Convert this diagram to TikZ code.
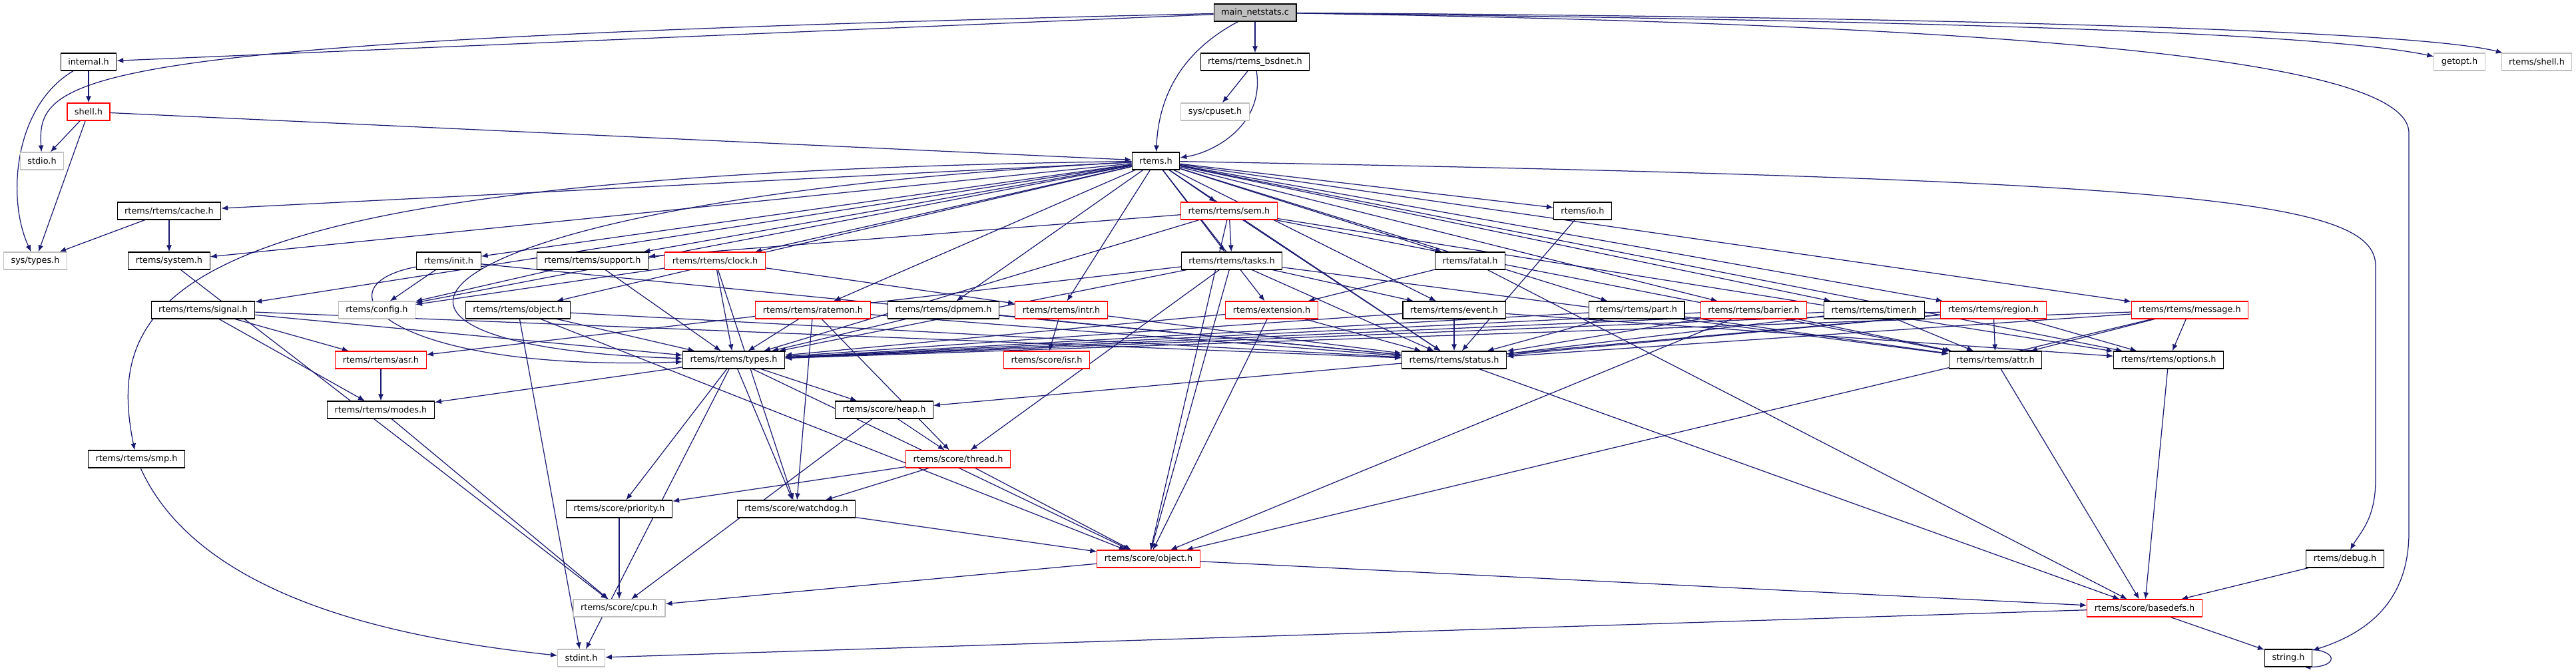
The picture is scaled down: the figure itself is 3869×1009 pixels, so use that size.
\documentclass[tikz,border=0pt]{standalone}
\usepackage{fontspec}
\newfontfamily\graphfont{DejaVu Sans}
\usetikzlibrary{arrows.meta,backgrounds}
\definecolor{edgeblue}{HTML}{191970}
\definecolor{boxgray}{HTML}{BFBFBF}
\definecolor{boxred}{HTML}{FF0000}

\begin{document}
\begin{tikzpicture}[x=0.02cm,y=-0.02cm,
    hdr/.style={draw=black,line width=0.6pt,fill=white,minimum height=0.52cm,
      inner xsep=0.22cm,inner ysep=0pt,font=\graphfont\fontsize{7.3}{8}\selectfont},
    hdrred/.style={hdr,draw=boxred},
    hdrgray/.style={hdr,draw=boxgray},
    hdrmain/.style={hdr,fill=boxgray},
    incl/.style={draw=edgeblue,line width=0.7pt,-{Latex[length=0.2cm,width=0.16cm]}}]
                            \useasboundingbox (0,0) rectangle (3869,1009);

                            % Row 0 and 1
                            \node [hdrmain] (main) at (1885,19) {main\_netstats.c};
                            \node [hdr] (internal) at (133,93) {internal.h};
                            \node [hdr] (bsdnet) at (1885,93) {rtems/rtems\_bsdnet.h};
                            \node [hdrgray] (getopt) at (3694,93) {getopt.h};
                            \node [hdrgray] (rshell) at (3810,93) {rtems/shell.h};

                            % Row 2 and 3
                            \node [hdrred] (shellh) at (133,168) {shell.h};
                            \node [hdrgray] (cpuset) at (1825,168) {sys/cpuset.h};
                            \node [hdrgray] (stdio) at (63,242) {stdio.h};
                            \node [hdr] (rtemsh) at (1736,242) {rtems.h};

                            % Row 4
                            \node [hdr] (cache) at (254,317) {rtems/rtems/cache.h};
                            \node [hdrred] (sem) at (1846,317) {rtems/rtems/sem.h};
                            \node [hdr] (ioh) at (2377,317) {rtems/io.h};

                            % Row 5
                            \node [hdrgray] (systypes) at (53,392) {sys/types.h};
                            \node [hdr] (system) at (254,392) {rtems/system.h};
                            \node [hdr] (init) at (674,392) {rtems/init.h};
                            \node [hdr] (support) at (890,392) {rtems/rtems/support.h};
                            \node [hdrred] (clock) at (1074,392) {rtems/rtems/clock.h};
                            \node [hdr] (tasks) at (1850,392) {rtems/rtems/tasks.h};
                            \node [hdr] (fatal) at (2208,392) {rtems/fatal.h};

                            % Row 6
                            \node [hdr] (signal) at (305,466) {rtems/rtems/signal.h};
                            \node [hdrgray] (config) at (566,466) {rtems/config.h};
                            \node [hdr] (robject) at (778,466) {rtems/rtems/object.h};
                            \node [hdrred] (ratemon) at (1221,466) {rtems/rtems/ratemon.h};
                            \node [hdr] (dpmem) at (1417,466) {rtems/rtems/dpmem.h};
                            \node [hdrred] (intr) at (1594,466) {rtems/rtems/intr.h};
                            \node [hdrred] (extension) at (1910,466) {rtems/extension.h};
                            \node [hdr] (event) at (2184,466) {rtems/rtems/event.h};
                            \node [hdr] (part) at (2458,466) {rtems/rtems/part.h};
                            \node [hdrred] (barrier) at (2634,466) {rtems/rtems/barrier.h};
                            \node [hdr] (timer) at (2815,466) {rtems/rtems/timer.h};
                            \node [hdrred] (region) at (2994,466) {rtems/rtems/region.h};
                            \node [hdrred] (message) at (3289,466) {rtems/rtems/message.h};

                            % Row 7 and 8
                            \node [hdrred] (asr) at (572,541) {rtems/rtems/asr.h};
                            \node [hdr] (types) at (1102,541) {rtems/rtems/types.h};
                            \node [hdrred] (isr) at (1572,541) {rtems/score/isr.h};
                            \node [hdr] (status) at (2184,541) {rtems/rtems/status.h};
                            \node [hdr] (attr) at (2997,541) {rtems/rtems/attr.h};
                            \node [hdr] (options) at (3257,541) {rtems/rtems/options.h};
                            \node [hdr] (modes) at (572,616) {rtems/rtems/modes.h};
                            \node [hdr] (heap) at (1328,616) {rtems/score/heap.h};

                            % Row 9 to 13
                            \node [hdr] (smp) at (205,690) {rtems/rtems/smp.h};
                            \node [hdrred] (thread) at (1439,690) {rtems/score/thread.h};
                            \node [hdr] (priority) at (930,765) {rtems/score/priority.h};
                            \node [hdr] (watchdog) at (1196,765) {rtems/score/watchdog.h};
                            \node [hdrred] (sobject) at (1725,840) {rtems/score/object.h};
                            \node [hdr] (debug) at (3522,840) {rtems/debug.h};
                            \node [hdrgray] (cpu) at (930,914) {rtems/score/cpu.h};
                            \node [hdrred] (basedefs) at (3221,914) {rtems/score/basedefs.h};
                            \node [hdrgray] (stdint) at (873,989) {stdint.h};
                            \node [hdr] (stringh) at (3437,989) {string.h};

                            \begin{scope}[on background layer]
                            % Drawing edges of main_netstats.c
                            \draw [incl] (main) -- (internal);
                            \draw [incl] (main) .. controls (110,60) and (55,110) .. (stdio);
                            \draw [incl] (main) .. controls (1770,80) and (1740,150) .. (rtemsh);
                            \draw [incl] (main) -- (bsdnet);
                            \draw [incl] (main) .. controls (3000,32) and (3500,52) .. (getopt);
                            \draw [incl] (main) .. controls (3000,26) and (3640,48) .. (rshell);
                            \draw [incl] (main) .. controls (3250,40) and (3618,110) .. (3618,200) -- (3618,800) .. controls (3618,900) and (3560,950) .. (stringh);

                            % Drawing edges of internal.h, shell.h and rtems_bsdnet.h
                            \draw [incl] (internal) -- (shellh);
                            \draw [incl] (internal) .. controls (20,160) and (10,300) .. (systypes);
                            \draw [incl] (shellh) -- (stdio);
                            \draw [incl] (shellh) -- (systypes);
                            \draw [incl] (shellh) -- (rtemsh);
                            \draw [incl] (bsdnet) -- (cpuset);
                            \draw [incl] (bsdnet) .. controls (1900,190) and (1820,230) .. (rtemsh);

                            % Drawing edges of rtems.h
                            \foreach \dst in {cache,system,signal,init,config,robject,support,clock,
                              sem,tasks,ratemon,dpmem,intr,extension,event,fatal,ioh,part,status,
                              barrier,timer,region,message,options}
                              \draw [incl] (rtemsh) -- (\dst);
                            \draw [incl] (rtemsh) .. controls (300,262) and (150,420) .. (smp);
                            \draw [incl] (rtemsh) .. controls (600,300) and (420,520) .. (types);
                            \draw [incl] (rtemsh) .. controls (3300,270) and (3568,300) .. (3568,400) -- (3568,720) .. controls (3568,780) and (3545,800) .. (debug);

                            % Drawing edges of the rtems/rtems headers
                            \draw [incl] (cache) -- (systypes);
                            \draw [incl] (cache) -- (system);
                            \draw [incl] (system) -- (cpu);
                            \foreach \dst in {support,tasks,types,sobject,attr,options,status}
                              \draw [incl] (sem) -- (\dst);
                            \draw [incl] (ioh) -- (status);
                            \draw [incl] (init) -- (config);
                            \draw [incl] (init) .. controls (470,430) and (580,560) .. (types);
                            \draw [incl] (init) -- (status);
                            \draw [incl] (support) -- (config);
                            \draw [incl] (support) -- (types);
                            \foreach \dst in {config,types,intr,watchdog}
                              \draw [incl] (clock) -- (\dst);
                            \foreach \dst in {asr,types,thread,event,status,sobject,attr}
                              \draw [incl] (tasks) -- (\dst);
                            \draw [incl] (fatal) -- (extension);
                            \draw [incl] (fatal) -- (basedefs);
                            \foreach \dst in {types,status,asr,modes}
                              \draw [incl] (signal) -- (\dst);
                            \foreach \dst in {types,status,sobject,stdint}
                              \draw [incl] (robject) -- (\dst);
                            \foreach \dst in {types,status,watchdog,thread}
                              \draw [incl] (ratemon) -- (\dst);
                            \draw [incl] (dpmem) -- (types);
                            \draw [incl] (dpmem) -- (status);
                            \draw [incl] (intr) -- (isr);
                            \draw [incl] (intr) -- (status);
                            \foreach \dst in {types,status,sobject}
                              \draw [incl] (extension) -- (\dst);
                            \foreach \dst in {types,status,options}
                              \draw [incl] (event) -- (\dst);
                            \foreach \dst in {types,status,attr}
                              \draw [incl] (part) -- (\dst);
                            \foreach \dst in {types,status,attr,sobject}
                              \draw [incl] (barrier) -- (\dst);
                            \foreach \dst in {types,status,attr}
                              \draw [incl] (timer) -- (\dst);
                            \foreach \dst in {types,status,attr,options,heap}
                              \draw [incl] (region) -- (\dst);
                            \foreach \dst in {types,status,attr,options,sobject}
                              \draw [incl] (message) -- (\dst);
                            \draw [incl] (asr) -- (modes);
                            \foreach \dst in {modes,heap,priority,watchdog,sobject,stdint}
                              \draw [incl] (types) -- (\dst);
                            \draw [incl] (status) -- (basedefs);
                            \draw [incl] (attr) -- (basedefs);
                            \draw [incl] (options) -- (basedefs);

                            % Drawing edges of the score headers
                            \draw [incl] (modes) -- (cpu);
                            \draw [incl] (heap) -- (thread);
                            \draw [incl] (heap) -- (cpu);
                            \draw [incl] (smp) .. controls (300,900) and (600,960) .. (stdint);
                            \foreach \dst in {priority,watchdog,sobject}
                              \draw [incl] (thread) -- (\dst);
                            \draw [incl] (priority) -- (cpu);
                            \draw [incl] (watchdog) -- (sobject);
                            \draw [incl] (sobject) -- (cpu);
                            \draw [incl] (sobject) -- (basedefs);
                            \draw [incl] (debug) -- (basedefs);
                            \draw [incl] (basedefs) -- (stdint);
                            \draw [incl] (basedefs) -- (stringh);
                            \draw [incl] (stringh.30) to [out=0,in=0,looseness=5] (stringh.-30);
                            \end{scope}
                            \end{tikzpicture}
\end{document}
